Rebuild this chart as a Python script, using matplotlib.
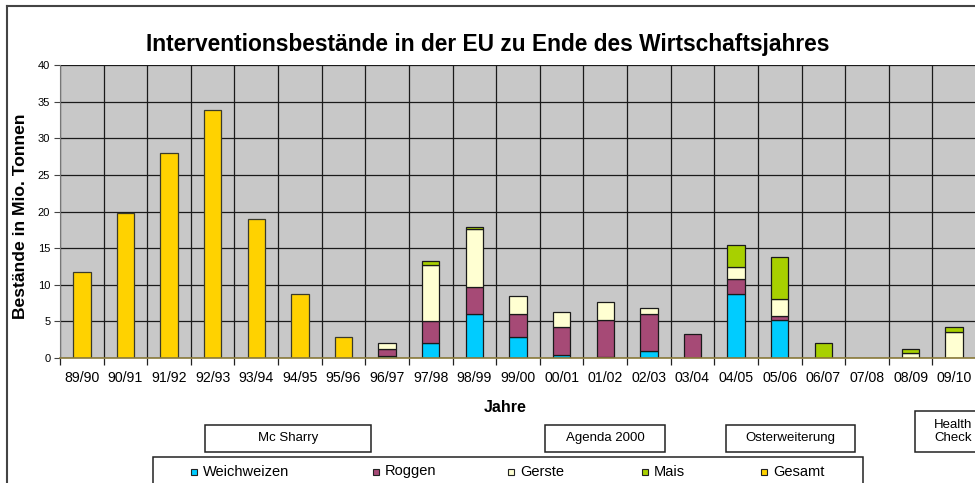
import numpy as np
import matplotlib
matplotlib.use("Agg")
import matplotlib.pyplot as plt
from matplotlib.patches import Rectangle
from matplotlib.lines import Line2D

plt.rcParams['font.family'] = ['Liberation Sans', 'DejaVu Sans']

years = ['89/90', '90/91', '91/92', '92/93', '93/94', '94/95', '95/96', '96/97',
         '97/98', '98/99', '99/00', '00/01', '01/02', '02/03', '03/04', '04/05',
         '05/06', '06/07', '07/08', '08/09', '09/10']

# Mio. Tonnen
gesamt = [11.7, 19.8, 28.0, 33.9, 19.0, 8.8, 2.9, 0, 0, 0, 0, 0, 0, 0, 0, 0, 0, 0, 0, 0, 0]
weichweizen = [0, 0, 0, 0, 0, 0, 0, 0.3, 2.0, 6.0, 2.8, 0.4, 0.2, 0.9, 0, 8.7, 5.2, 0, 0, 0, 0]
roggen = [0, 0, 0, 0, 0, 0, 0, 0.9, 3.0, 3.7, 3.2, 3.8, 5.0, 5.1, 3.3, 2.1, 0.6, 0, 0, 0, 0]
gerste = [0, 0, 0, 0, 0, 0, 0, 0.8, 7.7, 7.9, 2.4, 2.1, 2.4, 0.8, 0, 1.6, 2.3, 0, 0, 0.65, 3.6]
mais = [0, 0, 0, 0, 0, 0, 0, 0, 0.6, 0.3, 0, 0, 0, 0, 0, 3.0, 5.7, 2.0, 0, 0.55, 0.6]

series_names = ['Weichweizen', 'Roggen', 'Gerste', 'Mais', 'Gesamt']
series_colors = ['#00CCFF', '#A64A76', '#FFFFD2', '#A8D000', '#FFD200']

periods = ['Mc Sharry', 'Agenda 2000', 'Osterweiterung', 'Health\nCheck']

W, H = 975, 483
fig = plt.figure(figsize=(W / 100, H / 100), dpi=100)


def fx(px):
    return px / W


def fy(py):
    return 1 - py / H


ax = fig.add_axes([fx(60), fy(358), fx(976) - fx(60), fy(65) - fy(358)])
ax.set_facecolor('#C8C8C8')

x = np.arange(len(years))
bw = 0.4

# stacked components
bottom = np.zeros(len(years))
stack = [weichweizen, roggen, gerste, mais]
for vals, col in zip(stack, series_colors[:4]):
    vals = np.array(vals, dtype=float)
    m = vals > 0
    ax.bar(x[m], vals[m], bw, bottom=bottom[m], color=col,
           edgecolor='#1a1a1a', linewidth=0.9, zorder=3)
    bottom += vals

g = np.array(gesamt, dtype=float)
m = g > 0
ax.bar(x[m], g[m], bw, color=series_colors[4], edgecolor='#3a3a2a',
       linewidth=0.9, zorder=3)

ax.set_xlim(-0.5, len(years) - 0.5)
ax.set_ylim(0, 40)
ax.set_yticks(np.arange(0, 41, 5))
ax.tick_params(axis='y', labelsize=8, length=4, width=0.8, color='#444444', pad=3)

ax.set_xticks(x)
ax.set_xticklabels(years, fontsize=10.2)
ax.set_xticks(np.arange(-0.5, len(years), 1), minor=True)
ax.tick_params(axis='x', which='major', length=0, pad=9)
ax.tick_params(axis='x', which='minor', length=5, width=0.9, color='#222222')

ax.grid(axis='y', which='major', color='#1a1a1a', linewidth=0.9, zorder=1)
ax.grid(axis='x', which='minor', color='#1a1a1a', linewidth=0.9, zorder=1)
ax.set_axisbelow(True)

for s in ['top', 'right']:
    ax.spines[s].set_visible(False)
ax.spines['left'].set_color('#777777')
ax.spines['bottom'].set_color('#8a7a3a')
ax.spines['bottom'].set_linewidth(1.2)
ax.spines['bottom'].set_zorder(4)

# titles
fig.text(fx(488), fy(45), 'Interventionsbestände in der EU zu Ende des Wirtschaftsjahres',
         ha='center', va='center', fontsize=16.4, fontweight='bold')
fig.text(fx(20.5), fy(216.5), 'Bestände in Mio. Tonnen', rotation=90,
         ha='center', va='center', fontsize=12.6, fontweight='bold')
fig.text(fx(505), fy(407), 'Jahre', ha='center', va='center',
         fontsize=11.5, fontweight='bold')

# outer chart frame
fig.add_artist(Line2D([fx(7), fx(7)], [fy(6), fy(490)], color='#444444', lw=1.5))
fig.add_artist(Line2D([fx(7), fx(990)], [fy(6), fy(6)], color='#444444', lw=1.5))

# policy period boxes
boxes = [(205, 425, 371, 452), (545, 425, 665, 452), (726, 425, 855, 452), (915, 411, 995, 452)]
for (x0, y0, x1, y1), label in zip(boxes, periods):
    fig.add_artist(Rectangle((fx(x0), fy(y1)), fx(x1) - fx(x0), fy(y0) - fy(y1),
                             facecolor='white', edgecolor='#222222', lw=1.1))
    cx = (x0 + x1) / 2 if x1 < W else 953
    fig.text(fx(cx), fy((y0 + y1) / 2), label, ha='center', va='center',
             fontsize=9.5, linespacing=1.05)

# legend box
fig.add_artist(Rectangle((fx(153), fy(495)), fx(863) - fx(153), fy(457) - fy(495),
                         facecolor='white', edgecolor='#222222', lw=1.1))
marker_x = [193, 375, 510, 644, 763]
for mx, name, col in zip(marker_x, series_names, series_colors):
    fig.add_artist(Rectangle((fx(mx - 2.5), fy(475)), fx(6), fy(469) - fy(475),
                             facecolor=col, edgecolor='#222222', lw=0.8))
    fig.text(fx(mx + 10), fy(471.5), name, ha='left', va='center', fontsize=10.5)

fig.savefig('out.png', dpi=100)
